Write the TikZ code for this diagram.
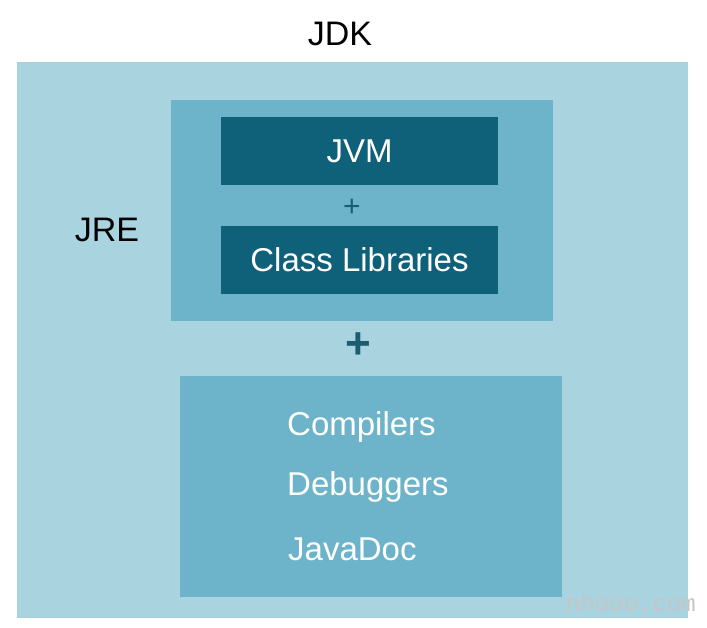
\documentclass[tikz,border=0pt]{standalone}
\usepackage{fontspec}
\setmainfont{Liberation Sans}
\newfontfamily\markfont{Liberation Mono}
\usepackage{tikz}
\usetikzlibrary{positioning}

\definecolor{jdklight}{HTML}{A9D3DF}
\definecolor{jremid}{HTML}{6DB4CA}
\definecolor{jvmdark}{HTML}{0F6179}
\definecolor{plusdark}{HTML}{1B5D71}

\tikzset{
  layer/.style={rectangle, inner sep=0pt, draw=none},
  darkbox/.style={layer, fill=jvmdark, minimum width=277pt, minimum height=68pt,
    text=white, font=\fontsize{33}{36}\selectfont},
  tool/.style={anchor=base west, inner sep=0pt, text=white, font=\fontsize{33}{36}\selectfont},
  title/.style={inner sep=0pt, text=black, font=\fontsize{34}{38}\selectfont}
}

\begin{document}
\begin{tikzpicture}[x=1pt, y=-1pt]
\useasboundingbox[fill=white] (0,0) rectangle (707,627);

% outer JDK area and the two inner blocks
\node[layer, fill=jdklight, minimum width=671pt, minimum height=556pt] (jdk) at (352.5,340) {};
\node[layer, fill=jremid, minimum width=382pt, minimum height=221pt] (jre) at (362,210.5) {};
\node[layer, fill=jremid, minimum width=382pt, minimum height=221pt] (tools) at (371,486) {};

% JRE content
\node[darkbox] (jvm) at (359.5,151) {JVM};
\node[darkbox] (classlib) at (359.5,260) {Class Libraries};
\node[text=plusdark, font=\fontsize{30}{32}\selectfont, inner sep=0pt] (plusa) at (352,208) {+};
\node[text=plusdark, font=\bfseries\fontsize{44}{46}\selectfont, inner sep=0pt] (plusb) at (358,346) {+};

% labels
\node[title] (jdklabel) at (340,34) {JDK};
\node[title] (jrelabel) at (107,230) {JRE};

% tools
\node[tool] (comp) at (287,435) {Compilers};
\node[tool] (debug) at (287,495) {Debuggers};
\node[tool] (jdoc) at (288,560) {JavaDoc};

% watermark
\node[text=gray!45, font=\markfont\fontsize{24}{26}\selectfont, inner sep=0pt] (mark) at (631,603) {nhooo.com};
\end{tikzpicture}
\end{document}
